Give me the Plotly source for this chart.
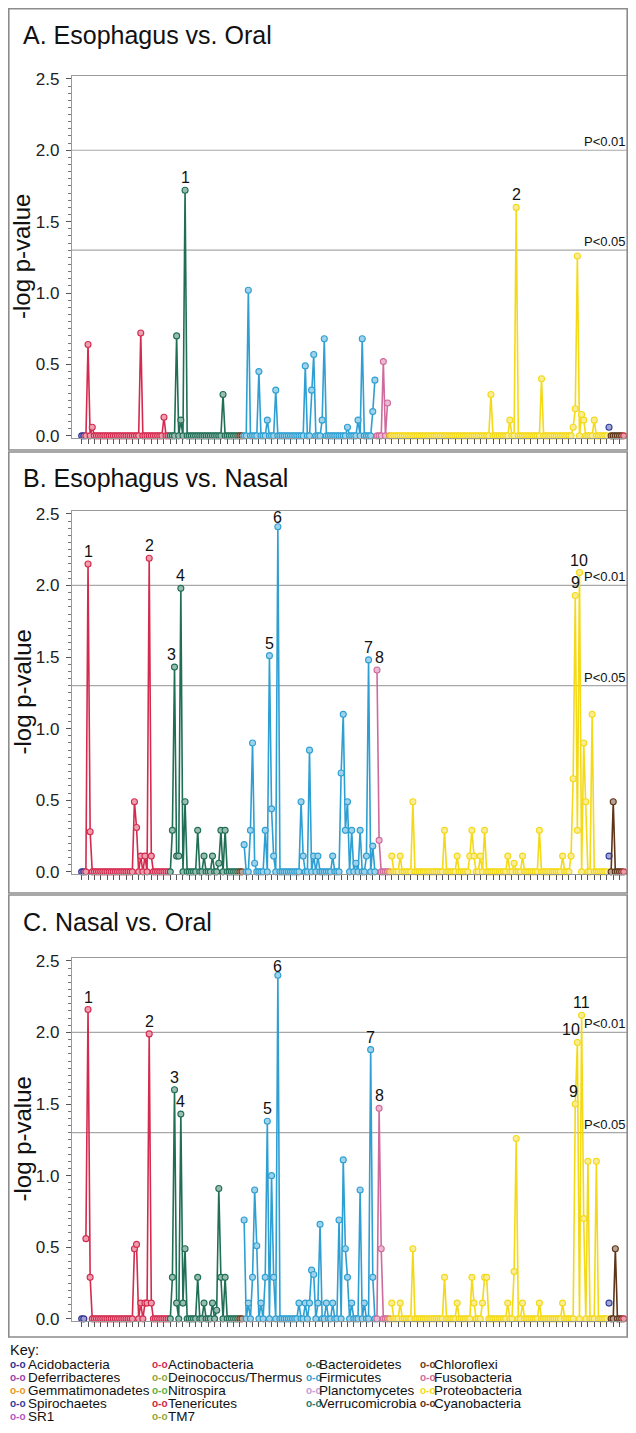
import plotly.graph_objects as go

# page is 636 x 1433; the html body keeps its default 8px margin, so the figure is 620 x 1417
PAGE_W, PAGE_H = 636, 1433
BODY_M = 8
W, H = PAGE_W - 2 * BODY_M, PAGE_H - 2 * BODY_M

# ---------------- data ----------------
# phylum segments along the OTU axis (first / last OTU index)
PHYLA = ["Acidobacteria", "Actinobacteria", "Bacteroidetes", "Chloroflexi",
         "Firmicutes", "Fusobacteria", "Gemmatimonadetes", "Proteobacteria",
         "Spirochaetes", "Cyanobacteria", "Tenericutes"]
PHYLA_FIRST = [0, 2, 42, 75, 77, 140, 146, 147, 250, 251, 257]
PHYLA_LAST = [1, 41, 74, 76, 139, 145, 146, 249, 250, 256, 257]
N_OTU = 258

# non-zero -log p-values per comparison (OTU index -> value); all other OTUs read as 0
A_IDX = [3, 5, 28, 39, 45, 47, 49, 67, 79, 84, 88, 92, 106, 109, 110, 114, 115, 126, 131, 133,
         138, 139, 143, 145, 194, 203, 206, 218, 233, 234, 235, 237, 238, 243, 250]
A_VAL = [0.64, 0.06, 0.72, 0.13, 0.70, 0.11, 1.72, 0.29, 1.02, 0.45, 0.11, 0.32, 0.49, 0.32, 0.57, 0.11, 0.68, 0.06, 0.11, 0.68,
         0.17, 0.39, 0.52, 0.23, 0.29, 0.11, 1.60, 0.40, 0.06, 0.19, 1.26, 0.15, 0.11, 0.11, 0.06]

B_IDX = [3, 4, 25, 26, 28, 30, 32, 33, 43, 44, 45, 46, 47, 49, 55, 58, 62, 65, 66, 68,
         77, 80, 81, 82, 87, 89, 90, 91, 93, 104, 105, 108, 110, 112, 119, 123, 124, 125, 126, 128,
         130, 132, 135, 136, 138, 140, 141, 147, 151, 157, 172, 178, 184, 185, 186, 189, 191, 202, 205, 209,
         217, 228, 232, 233, 234, 235, 236, 238, 239, 242, 250, 252]
B_VAL = [2.15, 0.28, 0.49, 0.31, 0.11, 0.11, 2.19, 0.11, 0.29, 1.43, 0.11, 0.11, 1.98, 0.49, 0.29, 0.11, 0.11, 0.06, 0.29, 0.29,
         0.19, 0.29, 0.90, 0.06, 0.29, 1.51, 0.44, 0.11, 2.41, 0.49, 0.11, 0.85, 0.11, 0.11, 0.11, 0.69, 1.10, 0.29, 0.49, 0.29,
         0.06, 0.29, 0.11, 1.48, 0.18, 1.41, 0.22, 0.11, 0.11, 0.49, 0.29, 0.11, 0.11, 0.29, 0.11, 0.11, 0.29, 0.11, 0.06, 0.11,
         0.29, 0.11, 0.11, 0.65, 1.93, 0.29, 2.09, 0.90, 0.49, 1.10, 0.11, 0.49]

C_IDX = [2, 3, 4, 25, 26, 28, 30, 31, 32, 33, 43, 44, 45, 47, 48, 49, 55, 58, 62, 64,
         65, 66, 68, 77, 79, 81, 82, 83, 85, 87, 88, 90, 91, 93, 103, 106, 108, 109, 110, 112,
         113, 116, 119, 122, 124, 125, 126, 128, 132, 134, 137, 138, 141, 142, 147, 151, 157, 172, 178, 185,
         186, 190, 191, 192, 202, 205, 206, 209, 217, 228, 234, 235, 237, 238, 240, 244, 250, 253]
C_VAL = [0.56, 2.16, 0.29, 0.49, 0.52, 0.11, 0.11, 0.11, 1.99, 0.11, 0.29, 1.60, 0.11, 1.43, 0.11, 0.49, 0.29, 0.11, 0.11, 0.06,
         0.91, 0.29, 0.29, 0.69, 0.11, 0.29, 0.90, 0.51, 0.11, 0.29, 1.38, 1.00, 0.29, 2.40, 0.11, 0.11, 0.11, 0.34, 0.31, 0.11,
         0.66, 0.11, 0.11, 0.69, 1.11, 0.49, 0.29, 0.11, 0.90, 0.11, 1.88, 0.29, 1.47, 0.49, 0.11, 0.11, 0.49, 0.29, 0.11, 0.29,
         0.11, 0.11, 0.29, 0.29, 0.11, 0.33, 1.26, 0.11, 0.11, 0.11, 1.50, 1.93, 2.12, 0.70, 1.10, 1.10, 0.11, 0.49]

# numbered significant OTUs (label -> OTU index)
A_LABELS = {"1": 49, "2": 206}
B_LABELS = {"1": 3, "2": 32, "3": 44, "4": 47, "5": 89, "6": 93, "7": 136, "8": 140, "9": 234, "10": 236}
C_LABELS = {"1": 3, "2": 32, "3": 44, "4": 47, "5": 88, "6": 93, "7": 137, "8": 141, "9": 234, "10": 235, "11": 237}

PANEL_TITLES = ["A. Esophagus vs. Oral", "B. Esophagus vs. Nasal", "C. Nasal vs. Oral"]
THRESHOLDS = [1.3, 2.0]
THRESHOLD_TEXT = ["P<0.05", "P<0.01"]
Y_TICKS = [0.0, 0.5, 1.0, 1.5, 2.0, 2.5]

KEY_NAMES = [
    ["Acidobacteria", "Deferribacteres", "Gemmatimonadetes", "Spirochaetes", "SR1"],
    ["Actinobacteria", "Deinococcus/Thermus", "Nitrospira", "Tenericutes", "TM7"],
    ["Bacteroidetes", "Firmicutes", "Planctomycetes", "Verrucomicrobia"],
    ["Chloroflexi", "Fusobacteria", "Proteobacteria", "Cyanobacteria"],
]

# ---------------- styles ----------------
COLORS = {
    "Acidobacteria": "#2e3192", "Deferribacteres": "#9b3fa8", "Gemmatimonadetes": "#e8962a",
    "Spirochaetes": "#2f3c9c", "SR1": "#b455c4",
    "Actinobacteria": "#d42a4e", "Deinococcus/Thermus": "#8fa63a", "Nitrospira": "#5bb044",
    "Tenericutes": "#d0283c", "TM7": "#94a83a",
    "Bacteroidetes": "#1f6e55", "Firmicutes": "#2e9fd2", "Planctomycetes": "#c79ad6",
    "Verrucomicrobia": "#1d7a6e",
    "Chloroflexi": "#6b3b1c", "Fusobacteria": "#cf6a9c", "Proteobacteria": "#f4d917",
    "Cyanobacteria": "#5e3418",
}
FONT = "Arial, Liberation Sans, sans-serif"
GRID = "#a8a8a8"
FRAME = "#9a9a9a"

# per-label nudges (panel, label) -> (xshift, yshift) in px
LABEL_NUDGE = {(1, "3"): (-3, 2), (1, "6"): (0, -1), (1, "8"): (2, 2), (2, "6"): (0, -2),
               (2, "9"): (-2, 2), (2, "10"): (-6, 2)}


def tint(hex_color, f=0.55):
    h = hex_color.lstrip("#")
    r, g, b = (int(h[i:i + 2], 16) for i in (0, 2, 4))
    return "rgb(%d,%d,%d)" % (r + (255 - r) * f, g + (255 - g) * f, b + (255 - b) * f)


# geometry in page pixels (from the top-left of the 636 x 1433 page)
PANEL_BOX = [(8.8, 450), (452, 893), (895, 1337)]
PANEL_LR = (8.8, 627.2)
PLOT_BOX = [(76, 438), (511, 874), (958, 1321)]
TITLE_Y = [35, 478, 922]
X_LEFT, X_RIGHT = 72, 628
Y_RANGE = [-0.015, 2.52]
X_RANGE = [-4.6, 259.0]


def fx(p):
    return min(max((p - BODY_M) / W, 0.0), 1.0)


def fy(p):
    return min(max(1 - (p - BODY_M) / H, 0.0), 1.0)


fig = go.Figure()
panels = [(A_IDX, A_VAL, A_LABELS), (B_IDX, B_VAL, B_LABELS), (C_IDX, C_VAL, C_LABELS)]
annotations = []
shapes = []

for k, (idx, val, labels) in enumerate(panels):
    sfx = "" if k == 0 else str(k + 1)
    xa, ya = "x" + sfx, "y" + sfx
    lookup = dict(zip(idx, val))
    for name, first, last in zip(PHYLA, PHYLA_FIRST, PHYLA_LAST):
        xs = list(range(first, last + 1))
        ys = [lookup.get(i, 0.0) for i in xs]
        c = COLORS[name]
        fig.add_trace(go.Scatter(
            x=xs, y=ys, mode="lines+markers", name=name, showlegend=False,
            xaxis=xa, yaxis=ya, cliponaxis=False, hoverinfo="skip",
            line=dict(color=c, width=1.6),
            marker=dict(symbol="circle", size=6, color=tint(c), line=dict(color=c, width=1.1)),
        ))
    # peak labels
    for lab, i in labels.items():
        dx, dy = LABEL_NUDGE.get((k, lab), (0, 2))
        annotations.append(dict(
            x=i, y=lookup[i], xref=xa, yref=ya, text=lab, showarrow=False,
            yanchor="bottom", xshift=dx, yshift=dy, font=dict(family=FONT, size=16, color="#111")))
    # threshold lines + text
    for t, tt in zip(THRESHOLDS, THRESHOLD_TEXT):
        shapes.append(dict(type="line", xref=xa + " domain", yref=ya, x0=0, x1=1, y0=t, y1=t,
                           line=dict(color=GRID, width=1.2), layer="below"))
        annotations.append(dict(x=1.0, y=t, xref=xa + " domain", yref=ya, text=tt, showarrow=False,
                                xanchor="right", yanchor="bottom", yshift=-1,
                                font=dict(family=FONT, size=13, color="#111")))
    # panel frame
    top, bot = PANEL_BOX[k]
    shapes.append(dict(type="rect", xref="paper", yref="paper", x0=fx(PANEL_LR[0]), x1=fx(PANEL_LR[1]),
                       y0=fy(bot), y1=fy(top), line=dict(color="#8c8c8c", width=1.6)))
    # panel title
    annotations.append(dict(x=fx(21), y=fy(TITLE_Y[k]), xref="paper", yref="paper", text=PANEL_TITLES[k],
                            showarrow=False, xanchor="left", yanchor="middle",
                            font=dict(family=FONT, size=25, color="#111")))
    ptop, pbot = PLOT_BOX[k]
    annotations.append(dict(x=fx(22), y=fy((ptop + pbot) / 2), xref="paper", yref="paper", text="-log p-value",
                            textangle=-90, showarrow=False, xanchor="center", yanchor="middle",
                            font=dict(family=FONT, size=24, color="#111")))
    fig.layout["xaxis" + sfx] = dict(
        domain=[fx(X_LEFT), fx(X_RIGHT)], anchor=ya, range=X_RANGE,
        tickvals=list(range(0, N_OTU, 3)), ticks="outside", ticklen=5, tickwidth=1, tickcolor="#555",
        showticklabels=False, showgrid=False, zeroline=False, automargin=False,
        showline=True, linecolor=FRAME, linewidth=1.2, mirror=True)
    fig.layout["yaxis" + sfx] = dict(
        domain=[fy(pbot), fy(ptop)], anchor=xa, range=Y_RANGE,
        tickvals=Y_TICKS, ticktext=["%.1f" % v for v in Y_TICKS],
        ticks="outside", ticklen=5, tickwidth=1, tickcolor="#555", ticklabelstandoff=3,
        minor=dict(dtick=0.05, ticks="outside", ticklen=2.5, tickcolor="#777"),
        tickfont=dict(family=FONT, size=17, color="#222"),
        showgrid=False, zeroline=False, automargin=False,
        showline=True, linecolor=FRAME, linewidth=1.2, mirror=True)

# ---------------- key ----------------
annotations.append(dict(x=fx(8), y=fy(1350), xref="paper", yref="paper", text="Key:", showarrow=False,
                        xanchor="left", yanchor="middle", font=dict(family=FONT, size=14.5, color="#111")))
KEY_GLYPH_X = [8, 150, 304, 418]
KEY_TEXT_X = [26, 166, 317, 432]
KEY_ROW_Y = [1364, 1377, 1390, 1403, 1416]
for c, names in enumerate(KEY_NAMES):
    for r, name in enumerate(names):
        col = COLORS[name]
        annotations.append(dict(x=fx(KEY_GLYPH_X[c]), y=fy(KEY_ROW_Y[r]), xref="paper", yref="paper",
                                text="<b>o-o</b>", showarrow=False, xanchor="left", yanchor="middle",
                                font=dict(family=FONT, size=10, color=col)))
        annotations.append(dict(x=fx(KEY_TEXT_X[c]), y=fy(KEY_ROW_Y[r]), xref="paper", yref="paper",
                                text=name, showarrow=False, xanchor="left", yanchor="middle",
                                font=dict(family=FONT, size=13.5, color="#111")))

fig.update_layout(
    width=W, height=H, margin=dict(l=0, r=0, t=0, b=0, autoexpand=False),
    paper_bgcolor="white", plot_bgcolor="white",
    annotations=annotations, shapes=shapes, showlegend=False,
)

fig.write_html("out.html", config={"displayModeBar": False})
